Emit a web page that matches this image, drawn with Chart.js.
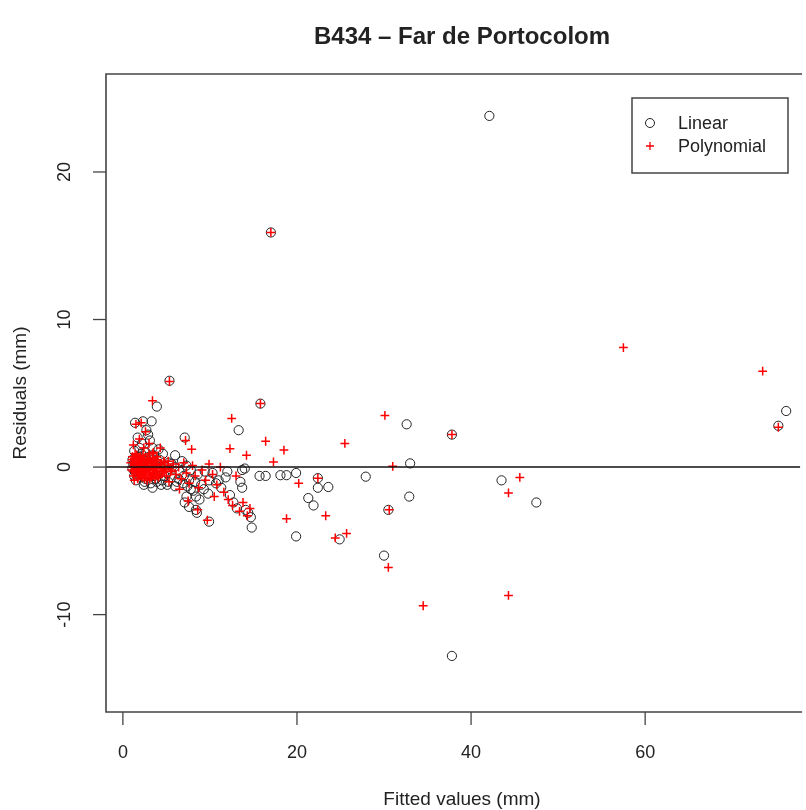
<!DOCTYPE html>
<html>
<head>
<meta charset="utf-8">
<script src="https://cdn.jsdelivr.net/npm/chart.js@4/dist/chart.umd.min.js"></script>
<style>
html,body{margin:0;padding:0;background:#fff;overflow:hidden;}
canvas{display:block;}
</style>
</head>
<body>
<canvas id="c" width="806" height="810"></canvas>
<script>
// ---- data ----
const titleText = "B434 \u2013 Far de Portocolom";
const xAxisTitle = "Fitted values (mm)";
const yAxisTitle = "Residuals (mm)";
const seriesNames = ["Linear", "Polynomial"];
const xTicks = [0, 20, 40, 60];
const yTicks = [-10, 0, 10, 20];

const linearX = [42.1,17.0,76.2,75.3,5.35,15.8,3.9,32.6,37.8,33.0,32.9,30.5,30.0,37.8,43.5,47.5,27.9,19.9,24.9,22.4,22.4,23.6,21.3,21.9,19.9,18.1,18.8,15.7,16.4,13.7,13.3,14.7,14.8,13.7,9.9,7.1,1.4,2.3,3.3,2.7,3.1,3.4,1.1,3.4,5.1,7.6,7.3,8.4,7.6,8.5,9.9,11.0,7.1,8.4,
  1.2,1.4,1.6,1.8,2.0,2.1,2.3,2.5,2.6,2.8,3.0,3.1,3.3,3.6,3.8,4.0,4.2,4.5,4.7,5.0,5.3,5.6,5.9,6.2,6.5,6.8,7.0,7.4,7.8,8.1,8.6,9.0,9.4,9.8,10.3,10.7,11.3,11.8,12.3,12.7,13.1,13.5,14.1,14.4,2.2,2.9,1.7,1.3,4.1,6.0,1.5,2.4,3.9,12.0,14.0,
  1.3,1.5,1.7,1.9,2.1,2.3,2.5,2.7,2.9,3.2,3.5,3.8,4.1,4.4,4.8,5.2,5.6,6.0,6.4,6.9,7.3,7.8,8.3,8.8,9.3,1.1,1.9,2.6,3.4,4.6];
const linearY = [23.8,15.9,3.8,2.8,5.85,4.3,4.1,2.9,2.2,0.25,-2.0,-2.9,-6.0,-12.8,-0.9,-2.4,-0.65,-4.7,-4.9,-0.75,-1.4,-1.35,-2.1,-2.6,-0.4,-0.55,-0.55,-0.6,-0.6,-0.2,2.5,-3.4,-4.1,-1.4,-3.7,2.0,3.0,3.1,3.1,2.5,1.8,1.3,0.5,-1.4,-1.2,-0.9,-2.0,-2.0,-2.7,-3.1,-0.9,-0.9,-2.4,-2.9,
  0.2,-0.3,0.6,-0.5,0.1,0.9,-0.2,0.4,-0.8,0.0,0.7,-0.4,0.2,-0.6,0.3,-0.2,0.5,-0.9,0.1,-0.4,0.3,-0.7,0.0,-1.0,-0.3,0.4,-0.6,-1.3,-0.2,-1.6,-0.5,-1.2,-0.3,-1.8,-0.4,-1.1,-1.4,-0.7,-1.9,-2.4,-2.8,-1.0,-2.9,-3.1,1.6,2.2,2.0,1.1,1.2,0.8,-0.9,-1.2,-1.0,-0.3,-0.1,
  -0.6,0.4,-0.2,0.7,-0.7,0.3,-1.0,0.6,-0.4,-1.1,0.5,-0.8,0.0,-1.2,-0.6,-1.0,0.2,-1.3,-0.8,-1.1,0.1,-1.5,-1.0,-2.2,-1.5,-0.1,1.3,1.0,0.8,0.9];

const polyX = [17.0,57.5,73.5,75.3,5.35,15.8,3.4,37.8,30.1,31.0,45.6,44.3,30.6,30.5,34.5,44.3,25.5,25.7,24.4,23.3,18.8,20.2,22.4,12.5,16.4,18.5,14.2,17.3,12.3,7.9,
  0.9,1.0,1.1,1.2,1.3,1.4,1.5,1.6,1.7,1.8,1.9,2.0,2.1,2.2,2.3,2.4,2.5,2.6,2.7,2.8,2.9,3.0,3.1,3.2,3.3,3.4,3.5,3.6,3.7,3.8,3.9,4.0,4.2,4.4,4.6,4.8,5.0,5.2,5.5,5.8,6.1,6.4,6.7,7.0,7.3,7.6,8.0,8.3,8.7,9.1,9.5,9.9,10.3,10.8,11.2,11.6,12.1,12.6,13.0,13.4,13.8,14.3,14.6,1.5,2.1,2.6,3.0,1.9,2.4,1.2,3.5,4.3,7.2,8.6,7.5,9.7,10.5,5.3,6.5,
  1.0,1.1,1.2,1.3,1.4,1.5,1.6,1.7,1.8,1.9,2.0,2.1,2.2,2.3,2.4,2.5,2.6,2.7,2.8,2.9,3.0,3.1,3.2,3.3,3.4,3.5,3.6,3.7,3.8,3.9,4.0,4.1,4.3,4.5,4.7,4.9,1.3,1.6,1.9,2.2,2.5,2.8,3.1,3.4,3.7,4.0,4.4,4.8,5.2,5.6];
const polyY = [15.9,8.1,6.5,2.7,5.8,4.3,4.5,2.2,3.5,0.05,-0.7,-1.75,-2.9,-6.8,-9.4,-8.7,1.6,-4.5,-4.8,-3.3,-3.5,-1.1,-0.75,3.3,1.75,1.15,0.8,0.35,1.25,1.2,
  0.3,-0.2,0.7,-0.6,0.1,0.9,-0.4,0.4,-0.8,0.0,0.6,-0.3,0.2,-0.7,0.8,-0.1,0.5,-0.5,0.1,-0.9,0.3,-0.2,0.6,-0.6,0.0,0.4,-0.4,0.2,-0.8,0.1,-0.3,0.5,-0.5,0.0,-0.2,0.3,-0.6,0.1,-0.3,0.2,-0.5,0.0,-0.8,0.3,-0.4,-1.1,0.1,-0.6,-1.4,-0.2,-0.9,0.2,-0.5,-1.2,0.0,-1.7,-2.2,-2.6,-0.6,-3.0,-2.4,-3.3,-2.8,2.9,3.0,2.4,1.6,1.9,1.3,1.5,1.0,1.3,1.8,-2.9,-2.3,-3.6,-2.0,-1.0,-1.5,
  0.0,0.5,-0.3,0.6,-0.1,0.2,0.8,-0.5,0.3,-0.2,0.7,-0.6,0.4,-0.4,0.6,-0.8,0.2,-0.3,0.5,-0.1,0.9,-0.5,0.3,-0.7,-0.2,0.6,-0.1,0.4,-0.5,0.7,-0.1,-0.7,0.2,-0.4,0.4,-0.1,-0.9,-0.2,-0.6,0.1,-0.4,0.5,-0.8,0.9,0.0,-0.6,0.2,-0.3,0.4,-0.2];

const toPoints = (xs, ys) => xs.map((x, i) => ({x: x, y: ys[i]}));

const FONT = "'Liberation Sans', Arial, sans-serif";
const TXT = "#222";

const decor = {
  id: 'decor',
  afterDatasetsDraw(chart) {
    const ctx = chart.ctx, a = chart.chartArea;
    const xs = chart.scales.x, ys = chart.scales.y;
    ctx.save();
    // zero line
    ctx.strokeStyle = '#111'; ctx.lineWidth = 1.6;
    const y0 = ys.getPixelForValue(0);
    ctx.beginPath(); ctx.moveTo(a.left, y0); ctx.lineTo(a.right, y0); ctx.stroke();
    // frame (right side lies outside the picture)
    ctx.strokeStyle = '#444'; ctx.lineWidth = 1.6;
    ctx.beginPath();
    ctx.moveTo(a.right + 2, a.top); ctx.lineTo(a.left, a.top); ctx.lineTo(a.left, a.bottom); ctx.lineTo(a.right + 2, a.bottom);
    ctx.stroke();
    // x ticks
    ctx.lineWidth = 1.3;
    ctx.fillStyle = TXT; ctx.font = "18px " + FONT;
    ctx.textAlign = 'center'; ctx.textBaseline = 'middle';
    xTicks.forEach(v => {
      const px = xs.getPixelForValue(v);
      ctx.beginPath(); ctx.moveTo(px, a.bottom); ctx.lineTo(px, a.bottom + 13); ctx.stroke();
      ctx.fillText(String(v), px, a.bottom + 41);
    });
    // y ticks (labels rotated as in R)
    yTicks.forEach(v => {
      const py = ys.getPixelForValue(v);
      ctx.beginPath(); ctx.moveTo(a.left, py); ctx.lineTo(a.left - 13, py); ctx.stroke();
      ctx.save(); ctx.translate(a.left - 41, py); ctx.rotate(-Math.PI / 2);
      ctx.fillText(String(v), 0, 0); ctx.restore();
    });
    // axis titles
    ctx.font = "19px " + FONT;
    ctx.fillText(xAxisTitle, 462, 800);
    ctx.save(); ctx.translate(21, (a.top + a.bottom) / 2); ctx.rotate(-Math.PI / 2);
    ctx.fillText(yAxisTitle, 0, 0); ctx.restore();
    // main title
    ctx.font = "bold 24px " + FONT;
    ctx.fillText(titleText, 462, 37);
    // legend box
    const lx = 632, ly = 98, lw = 156, lh = 75;
    ctx.fillStyle = '#fff'; ctx.fillRect(lx, ly, lw, lh);
    ctx.strokeStyle = '#444'; ctx.lineWidth = 1.5; ctx.strokeRect(lx, ly, lw, lh);
    ctx.strokeStyle = '#222'; ctx.lineWidth = 1;
    ctx.beginPath(); ctx.arc(650, 123, 4.5, 0, Math.PI * 2); ctx.stroke();
    ctx.strokeStyle = '#ff0000'; ctx.lineWidth = 1.3;
    ctx.beginPath(); ctx.moveTo(646, 146); ctx.lineTo(654, 146); ctx.moveTo(650, 142); ctx.lineTo(650, 150); ctx.stroke();
    ctx.fillStyle = TXT; ctx.font = "18px " + FONT; ctx.textAlign = 'left';
    ctx.fillText(seriesNames[0], 678, 124);
    ctx.fillText(seriesNames[1], 678, 147);
    ctx.restore();
  }
};

new Chart(document.getElementById('c'), {
  type: 'scatter',
  data: {
    datasets: [
      {label: seriesNames[0], data: toPoints(linearX, linearY), order: 2,
       pointStyle: 'circle', pointRadius: 4.6, borderColor: '#222', borderWidth: 1,
       backgroundColor: 'rgba(0,0,0,0)'},
      {label: seriesNames[1], data: toPoints(polyX, polyY), order: 1,
       pointStyle: 'cross', pointRadius: 4.4, borderColor: '#ff0000', borderWidth: 1.5,
       backgroundColor: '#ff0000'}
    ]
  },
  options: {
    responsive: false,
    animation: false,
    events: [],
    layout: {padding: {left: 106, top: 74, right: 0, bottom: 98}},
    plugins: {legend: {display: false}, title: {display: false}, tooltip: {enabled: false}},
    scales: {
      x: {type: 'linear', min: -1.94, max: 77.8, display: false},
      y: {type: 'linear', min: -16.6, max: 26.64, display: false}
    }
  },
  plugins: [decor]
});
</script>
</body>
</html>
